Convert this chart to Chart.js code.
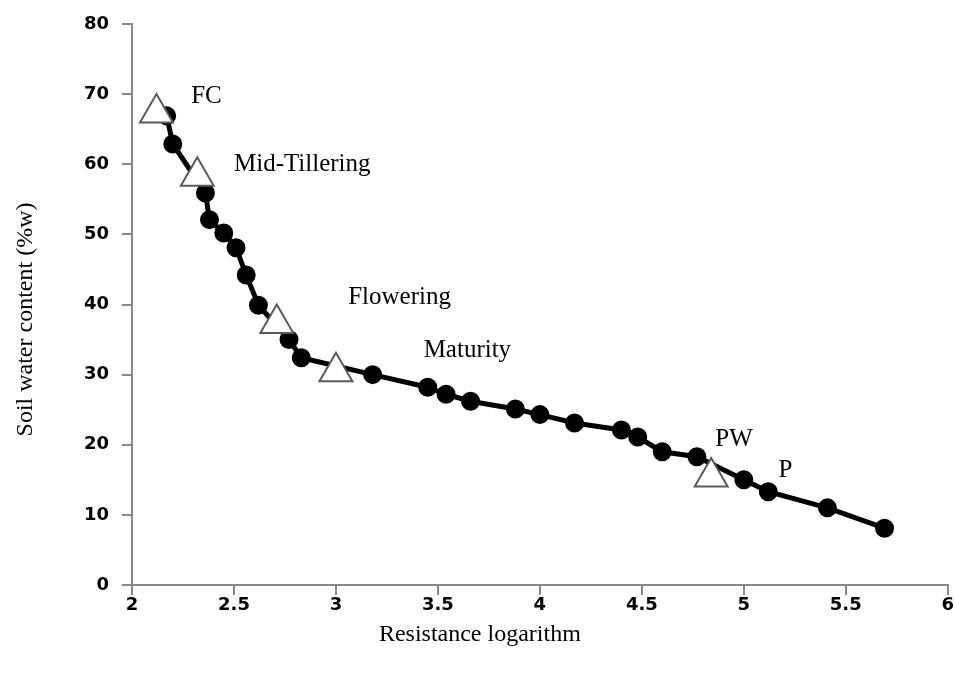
<!DOCTYPE html>
<html>
<head>
<meta charset="utf-8">
<script src="https://cdn.jsdelivr.net/npm/chart.js@4/dist/chart.umd.min.js"></script>
<style>
  html, body { margin: 0; padding: 0; background: #fff; overflow: hidden; }
  #soilChart { display: block; }
</style>
</head>
<body>
<canvas id="soilChart" width="954" height="677"></canvas>
<script>
// measured curve (resistance log vs water content)
const resistLog = [2.17, 2.20, 2.36, 2.38, 2.45, 2.51, 2.56, 2.62, 2.77, 2.83, 3.18, 3.45, 3.54, 3.66, 3.88, 4.00, 4.17, 4.40, 4.48, 4.60, 4.77, 5.00, 5.12, 5.41, 5.69];
const waterContent = [66.9, 62.9, 55.9, 52.1, 50.2, 48.1, 44.2, 39.9, 35.0, 32.4, 30.0, 28.2, 27.2, 26.2, 25.1, 24.3, 23.1, 22.1, 21.1, 19.0, 18.3, 15.0, 13.3, 11.0, 8.1];

// growth stage markers
const stageLog = [2.12, 2.32, 2.71, 3.00, 4.84];
const stageWater = [67.3, 58.3, 37.3, 30.4, 15.4];

// text labels and where they sit (data units)
const labelText = ['FC', 'Mid-Tillering', 'Flowering', 'Maturity', 'PW', 'P'];
const labelX = [2.29, 2.50, 3.06, 3.43, 4.86, 5.17];
const labelY = [69.7, 60.0, 41.0, 33.4, 20.7, 16.4];

const xTicks = [2, 2.5, 3, 3.5, 4, 4.5, 5, 5.5, 6];
const yTicks = [0, 10, 20, 30, 40, 50, 60, 70, 80];

const serif = '"Liberation Serif", "Times New Roman", serif';
const sans = '"DejaVu Sans", Verdana, sans-serif';

const stageLabels = {
    id: 'stageLabels',
    afterDatasetsDraw(chart) {
        const ctx = chart.ctx;
        const xs = chart.scales.x, ys = chart.scales.y;
        ctx.save();
        ctx.font = '25px ' + serif;
        ctx.fillStyle = '#000';
        ctx.textAlign = 'left';
        ctx.textBaseline = 'middle';
        labelText.forEach((t, i) => {
            ctx.fillText(t, xs.getPixelForValue(labelX[i]), ys.getPixelForValue(labelY[i]));
        });
        ctx.restore();
    }
};

const ctx = document.getElementById('soilChart').getContext('2d');
new Chart(ctx, {
    type: 'scatter',
    data: {
        datasets: [
            {
                label: 'stages',
                data: stageLog.map((x, i) => ({ x: x, y: stageWater[i] })),
                pointStyle: 'triangle',
                pointRadius: 19,
                pointBackgroundColor: '#fff',
                pointBorderColor: '#5a5a5a',
                pointBorderWidth: 2,
                showLine: false,
                order: 0
            },
            {
                label: 'curve',
                data: resistLog.map((x, i) => ({ x: x, y: waterContent[i] })),
                showLine: true,
                borderColor: '#000',
                borderWidth: 5,
                pointRadius: 7,
                pointBackgroundColor: '#000',
                pointBorderColor: '#000',
                order: 1
            }
        ]
    },
    options: {
        responsive: false,
        devicePixelRatio: 1,
        animation: false,
        layout: { autoPadding: false, padding: { top: 24, right: 6, left: 0, bottom: 0 } },
        plugins: {
            legend: { display: false },
            tooltip: { enabled: false }
        },
        scales: {
            x: {
                type: 'linear',
                min: 2,
                max: 6,
                afterBuildTicks: (s) => { s.ticks = xTicks.map(v => ({ value: v })); },
                afterFit: (s) => { s.height = 92; },
                grid: { display: true, drawOnChartArea: false, drawTicks: true, tickLength: 10, color: '#888', lineWidth: 2 },
                border: { display: true, color: '#888', width: 2 },
                ticks: {
                    color: '#000',
                    padding: 0,
                    font: { family: sans, size: 18, weight: 'bold' },
                    maxRotation: 0,
                    callback: (v) => String(v)
                },
                title: {
                    display: true,
                    // trailing em spaces nudge the centred title left like the original
                    text: 'Resistance logarithm\u2003\u2003\u2003\u2003\u2003',
                    color: '#000',
                    font: { family: serif, size: 24 },
                    padding: { top: 0, bottom: 28 }
                }
            },
            y: {
                min: 0,
                max: 80,
                afterBuildTicks: (s) => { s.ticks = yTicks.map(v => ({ value: v })); },
                afterFit: (s) => { s.width = 132; },
                grid: { display: true, drawOnChartArea: false, drawTicks: true, tickLength: 10, color: '#888', lineWidth: 2 },
                border: { display: true, color: '#888', width: 2 },
                ticks: {
                    color: '#000',
                    padding: 13,
                    font: { family: sans, size: 18, weight: 'bold' },
                    callback: (v) => String(v)
                },
                title: {
                    display: true,
                    text: 'Soil water content (%w)\u2003 ',
                    color: '#000',
                    font: { family: serif, size: 24 },
                    padding: { top: 11, bottom: 0 }
                }
            }
        }
    },
    plugins: [stageLabels]
});
</script>
</body>
</html>
